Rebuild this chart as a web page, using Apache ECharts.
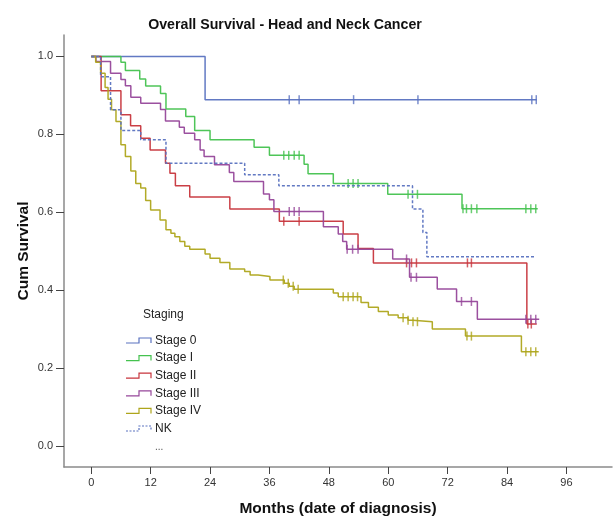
<!DOCTYPE html>
<html>
<head>
<meta charset="utf-8">
<script src="https://cdn.jsdelivr.net/npm/echarts@6/dist/echarts.min.js"></script>
<style>html,body{margin:0;padding:0;background:#fff;}#c{width:614px;height:516px;}</style>
</head>
<body>
<div id="c"></div>
<script>
// ---- data (months, cumulative survival) ----
const seriesNames = ['Stage 0', 'Stage I', 'Stage II', 'Stage III', 'Stage IV', 'NK'];

const t0 = [0, 23.0, 90.0];
const s0 = [1.0, 0.889, 0.889];
const c0 = [40.0, 42.0, 53.0, 66.0, 89.0, 89.9];

const t1 = [0, 6.0, 6.9, 9.8, 11.0, 14.0, 15.1, 19.1, 20.9, 24.0, 32.9, 36.0, 43.0, 43.8, 48.9, 59.9, 74.9, 90.2];
const s1 = [1.0, 0.985, 0.964, 0.942, 0.924, 0.905, 0.865, 0.846, 0.810, 0.786, 0.767, 0.746, 0.723, 0.699, 0.674, 0.646, 0.609, 0.609];
const c1 = [38.9, 39.9, 41.0, 42.0, 51.9, 52.9, 53.9, 64.0, 65.9, 75.1, 75.8, 76.8, 77.9, 87.8, 88.8, 89.8];

const t2 = [0, 2.0, 6.0, 7.95, 10.0, 11.9, 15.0, 15.9, 17.0, 19.9, 28.0, 38.0, 50.9, 53.9, 57.0, 88.0, 90.0];
const s2 = [1.0, 0.912, 0.850, 0.822, 0.790, 0.760, 0.726, 0.700, 0.668, 0.639, 0.608, 0.577, 0.544, 0.507, 0.470, 0.313, 0.313];
const c2 = [38.9, 42.0, 63.7, 64.7, 65.7, 76.0, 76.8, 88.2, 88.9];

const t3 = [0, 0.95, 3.9, 6.0, 6.9, 8.0, 10.0, 14.0, 15.0, 17.8, 18.8, 20.9, 22.0, 22.8, 24.9, 27.9, 28.8, 34.8, 36.0, 36.9, 46.9, 49.9, 50.8, 51.6, 60.9, 64.3, 69.9, 73.8, 78.0, 90.5];
const s3 = [1.0, 0.987, 0.957, 0.941, 0.925, 0.895, 0.880, 0.864, 0.834, 0.818, 0.803, 0.786, 0.760, 0.743, 0.722, 0.702, 0.679, 0.647, 0.632, 0.602, 0.563, 0.544, 0.525, 0.505, 0.480, 0.433, 0.403, 0.371, 0.325, 0.325];
const c3 = [40.0, 41.0, 42.0, 51.7, 52.8, 53.9, 63.7, 64.6, 65.7, 74.8, 76.8, 87.8, 88.8, 89.8];

const t4 = [0, 0.9, 1.9, 2.8, 3.4, 4.1, 5.0, 6.0, 6.9, 8.0, 9.0, 10.0, 11.0, 12.0, 13.9, 15.1, 16.1, 16.9, 17.9, 18.9, 19.9, 23.0, 24.0, 26.0, 28.0, 31.0, 32.1, 33.7, 36.1, 39.0, 40.0, 41.0, 48.9, 49.9, 54.5, 56.0, 58.0, 60.0, 62.0, 64.0, 65.0, 68.9, 75.6, 86.9, 90.4];
const s4 = [1.0, 0.985, 0.957, 0.920, 0.890, 0.863, 0.833, 0.773, 0.743, 0.706, 0.674, 0.662, 0.630, 0.606, 0.580, 0.555, 0.546, 0.537, 0.525, 0.513, 0.505, 0.493, 0.482, 0.471, 0.454, 0.448, 0.439, 0.435, 0.426, 0.418, 0.410, 0.402, 0.393, 0.383, 0.368, 0.356, 0.345, 0.336, 0.329, 0.323, 0.319, 0.300, 0.282, 0.242, 0.242];
const c4 = [38.8, 39.8, 40.8, 41.8, 50.9, 51.9, 52.9, 53.8, 63.0, 64.0, 65.0, 65.9, 75.9, 76.8, 87.8, 88.8, 89.8];

const t5 = [0, 1.9, 3.9, 6.0, 10.0, 15.1, 31.0, 37.9, 64.9, 67.0, 67.8, 89.6];
const s5 = [1.0, 0.948, 0.863, 0.810, 0.786, 0.726, 0.696, 0.668, 0.608, 0.548, 0.486, 0.486];
const c5 = [];

const xTicks = [0, 12, 24, 36, 48, 60, 72, 84, 96];
const yTicks = [0, 0.2, 0.4, 0.6, 0.8, 1.0];

// ---- build ----
const colors = ['#5a72c0', '#45c24f', '#c7353c', '#96479a', '#aea51b', '#5a72c0'];
const T = [t0, t1, t2, t3, t4, t5];
const S = [s0, s1, s2, s3, s4, s5];
const C = [c0, c1, c2, c3, c4, c5];
const FONT = '"Liberation Sans", Arial, sans-serif';

function stepAt(ts, vs, x) {
  let v = vs[0];
  for (let i = 0; i < ts.length; i++) { if (ts[i] <= x) v = vs[i]; }
  return v;
}

const series = [];
const order = [4, 3, 2, 1, 5, 0];
order.forEach(k => {
  series.push({
    name: seriesNames[k], type: 'line', step: 'end', symbol: 'none', z: 2 + k,
    data: T[k].map((t, i) => [t, S[k][i]]),
    lineStyle: { color: colors[k], width: 1.5, type: k === 5 ? [3, 2] : 'solid', opacity: 0.95 },
    animation: false
  });
  if (C[k].length) {
    series.push({
      name: seriesNames[k] + ' censored', type: 'scatter', symbol: 'rect', symbolSize: [1.5, 9], z: 3 + k,
      data: C[k].map(t => [t, stepAt(T[k], S[k], t)]),
      itemStyle: { color: colors[k] }, animation: false
    });
  }
});

// legend graphics
const graphics = [{
  type: 'text', left: 143, top: 309,
  style: { text: 'Staging', font: '12px ' + FONT, fill: '#222' }
}];
const legY0 = 340.5, legDy = 17.6;
seriesNames.forEach((n, i) => {
  const cy = legY0 + i * legDy;
  graphics.push({
    type: 'polyline',
    shape: { points: [[126, cy + 2.5], [139, cy + 2.5], [139, cy - 2.5], [151, cy - 2.5], [151, cy + 2.5]] },
    style: { stroke: colors[i], lineWidth: 1.2, fill: null, lineDash: i === 5 ? [2, 1.5] : null }
  });
  graphics.push({
    type: 'text', x: 155, y: cy,
    style: { text: n, font: '12px ' + FONT, fill: '#222', textVerticalAlign: 'middle' }
  });
});
graphics.push({
  type: 'text', x: 155, y: legY0 + 6 * legDy + 1,
  style: { text: '...', font: '10px ' + FONT, fill: '#555', textVerticalAlign: 'middle' }
});

const chart = echarts.init(document.getElementById('c'), null, { renderer: 'canvas' });
chart.setOption({
  backgroundColor: '#fff',
  animation: false,
  title: {
    text: 'Overall Survival - Head and Neck Cancer', left: 280, textAlign: 'center', top: 13,
    textStyle: { fontFamily: FONT, fontWeight: 'bold', fontSize: 14.2, color: '#111' }
  },
  grid: { left: 64, top: 35, right: 2, bottom: 49, containLabel: false, outerBoundsMode: 'none' },
  xAxis: {
    type: 'value', min: -5.5, max: 105.2,
    name: 'Months (date of diagnosis)', nameLocation: 'middle', nameGap: 34, nameMoveOverlap: false,
    nameTextStyle: { fontFamily: FONT, fontWeight: 'bold', fontSize: 15.5, color: '#111' },
    axisLine: { show: true, onZero: false, lineStyle: { color: '#8a8a8a', width: 1.5 } },
    axisTick: { show: true, customValues: xTicks, length: 7, lineStyle: { color: '#444' } },
    axisLabel: { customValues: xTicks, margin: 10, fontSize: 11, color: '#333', fontFamily: FONT },
    splitLine: { show: false }
  },
  yAxis: {
    type: 'value', min: -0.054, max: 1.055,
    name: 'Cum Survival', nameLocation: 'middle', nameGap: 32, nameRotate: 90, nameMoveOverlap: false,
    nameTextStyle: { fontFamily: FONT, fontWeight: 'bold', fontSize: 15.5, color: '#111' },
    axisLine: { show: true, onZero: false, lineStyle: { color: '#8a8a8a', width: 1.5 } },
    axisTick: { show: true, customValues: yTicks, length: 8, lineStyle: { color: '#444' } },
    axisLabel: { customValues: yTicks, margin: 11, fontSize: 11, color: '#333', fontFamily: FONT,
      formatter: v => v.toFixed(1) },
    splitLine: { show: false }
  },
  series: series,
  graphic: graphics
});
</script>
</body>
</html>
